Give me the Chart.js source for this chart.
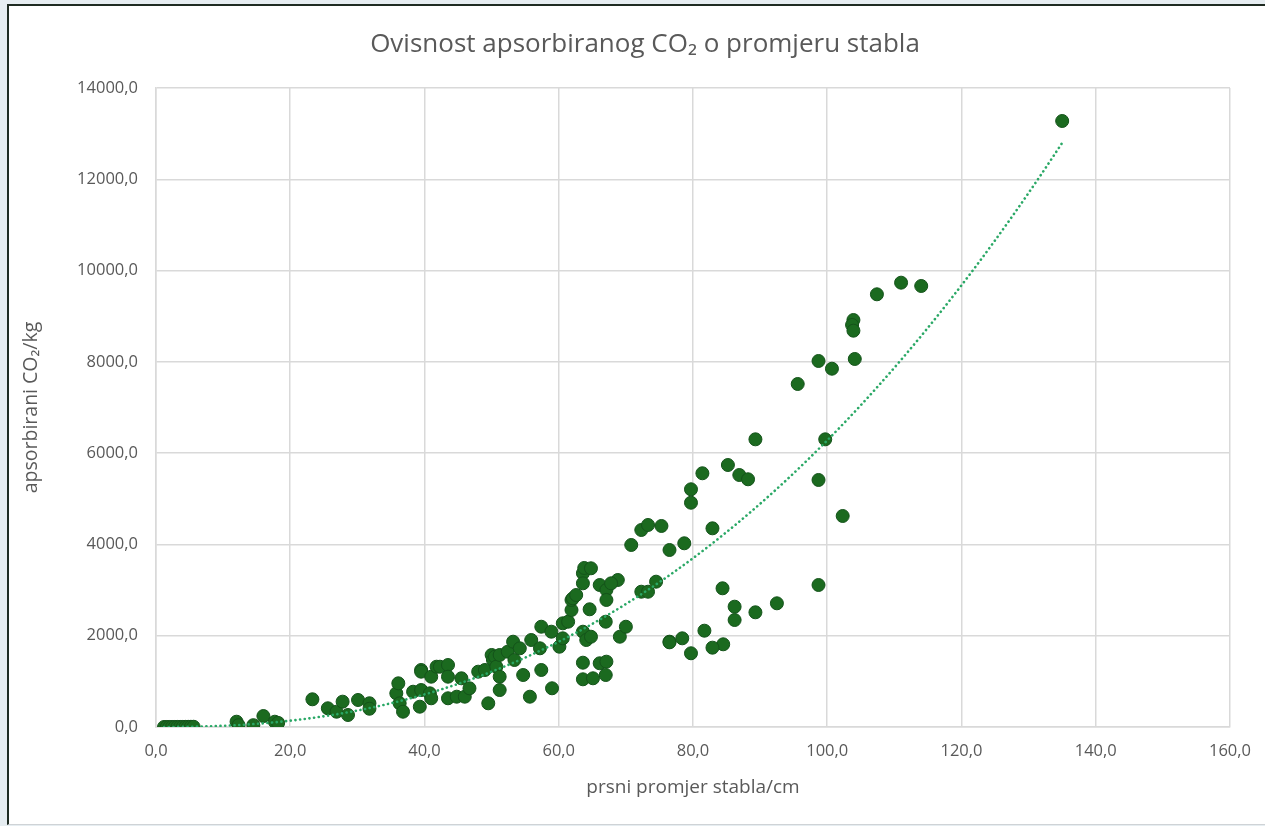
<!DOCTYPE html>
<html>
<head>
<meta charset="utf-8">
<title>Ovisnost apsorbiranog CO2 o promjeru stabla</title>
<script src="https://cdn.jsdelivr.net/npm/chart.js@4.4.1/dist/chart.umd.min.js"></script>
<style>
    html, body { margin: 0; padding: 0; }
    body { width: 1265px; height: 826px; background: #e6edf1; position: relative; overflow: hidden; }
    .panel {
        position: absolute; left: 7px; top: 4px; width: 1270px; height: 818px;
        background: #fff; border-left: 2px solid #1f2b22; border-top: 2px solid #1f2b22;
        border-bottom: 1px solid #cfd3d6;
    }
    #mycanvas { position: absolute; left: 0; top: 0; }
</style>
</head>
<body>
<div class="panel"></div>
<canvas id="mycanvas" width="1265" height="826"></canvas>
<script>
// data: breast-height diameter (cm) and absorbed CO2 (kg)
var diameter = [
    1.2, 1.6, 2.0, 2.4, 2.8, 3.2, 3.6, 4.0, 4.4, 4.8, 5.2, 5.6,
    12.0, 12.3, 14.5, 16.0, 17.7, 18.2, 23.3, 25.6, 26.9, 27.8, 28.6, 30.1,
    31.8, 31.8, 35.8, 36.1, 36.3, 36.8, 38.3, 39.3, 39.5, 39.5, 39.5, 40.8,
    41.0, 41.0, 41.8, 42.3, 43.5, 43.5, 43.5, 44.8, 45.5, 46.0, 46.7, 48.0,
    49.0, 49.5, 50.0, 50.2, 50.5, 50.7, 51.2, 51.2, 51.2, 52.4, 53.2, 53.4,
    54.2, 54.7, 55.7, 55.9, 57.2, 57.4, 57.4, 58.9, 59.0, 60.1, 60.6, 60.6,
    61.4, 61.9, 61.9, 62.1, 62.6, 63.6, 63.8, 64.8, 63.6, 64.6, 63.6, 64.1,
    64.8, 63.6, 63.6, 65.1, 66.1, 67.1, 67.0, 66.1, 67.1, 67.1, 68.8, 67.8,
    67.0, 69.1, 70.0, 72.3, 73.3, 74.5, 76.5, 70.8, 72.3, 73.3, 75.3, 76.5,
    78.7, 79.7, 79.7, 81.4, 82.9, 85.2, 86.9, 88.2, 84.4, 86.2, 86.2, 89.3,
    99.7, 98.7, 102.3, 98.7, 92.5, 89.3, 81.7, 84.5, 82.9, 79.7, 78.4, 76.5,
    111.0, 114.0, 107.4, 103.9, 103.7, 103.9, 104.1, 98.7, 100.7, 95.6, 135.0
];
var co2 = [
    0.17, 0.34, 0.5, 0.76, 1.1, 1.43, 1.85, 2.35, 2.94, 3.6, 4.3, 5.2,
    116, 40, 40, 240, 116, 90, 607, 410, 335, 555, 263, 592,
    520, 400, 738, 957, 519, 335, 773, 445, 1249, 810, 1212, 738,
    1102, 629, 1321, 1321, 1358, 1102, 629, 664, 1067, 664, 848, 1212,
    1249, 519, 1578, 1468, 1540, 1321, 1578, 1102, 810, 1650, 1869, 1468,
    1724, 1139, 664, 1906, 1724, 2197, 1249, 2088, 848, 1759, 1943, 2272,
    2307, 2563, 2783, 2820, 2892, 3368, 3484, 3477, 3148, 2579, 2088, 1906,
    1978, 1409, 1045, 1067, 1396, 1431, 1139, 3111, 3002, 2783, 3221, 3148,
    2307, 1978, 2197, 2964, 2964, 3184, 1869, 3988, 4316, 4426, 4404, 3878,
    4025, 4914, 5208, 5559, 4353, 5740, 5521, 5427, 3039, 2636, 2344, 6303,
    6303, 5412, 4623, 3111, 2710, 2513, 2110, 1812, 1738, 1615, 1943, 1855,
    9735, 9662, 9480, 8917, 8808, 8683, 8063, 8019, 7850, 7515, 13277
];
var xTicks = { min: 0, max: 160, step: 20 };
var yTicks = { min: 0, max: 14000, step: 2000 };

var textColor = '#595959';
var gridColor = '#d9d9d9';

function comma(v) {
    return Number(v).toFixed(1).replace('.', ',');
}

// scatter points
var points = [];
for (var i in diameter) {
    points.push({ x: diameter[i], y: co2[i] });
}

// power trendline (least squares on ln x, ln y), like the spreadsheet one
var sx = 0, sy = 0, sxx = 0, sxy = 0, n = 0;
for (var i in points) {
    if (points[i].x > 0 && points[i].y > 0) {
        var lx = Math.log(points[i].x), ly = Math.log(points[i].y);
        sx += lx; sy += ly; sxx += lx * lx; sxy += lx * ly; n++;
    }
}
var b = (n * sxy - sx * sy) / (n * sxx - sx * sx);
var a = Math.exp((sy - b * sx) / n);
var xmin = Math.min.apply(null, diameter), xmax = Math.max.apply(null, diameter);
var trend = [];
for (var k = 0; k <= 120; k++) {
    var xv = xmin + (xmax - xmin) * k / 120;
    trend.push({ x: xv, y: a * Math.pow(xv, b) });
}

var fontFamily = "'Open Sans', 'DejaVu Sans', sans-serif";

// title box is centred a bit left of the plot, as in the spreadsheet
var titleShift = {
    id: 'titleShift',
    afterLayout: function(chart) {
        if (chart.titleBlock) {
            chart.titleBlock.left = 59;
        }
    }
};

var ctx = document.getElementById('mycanvas');
var chart = new Chart(ctx, {
    type: 'scatter',
    plugins: [titleShift],
    data: {
        datasets: [{
            label: 'trend',
            type: 'line',
            data: trend,
            order: 0,
            borderColor: '#2aa866',
            borderWidth: 2.6,
            borderDash: [0.1, 4.6],
            borderCapStyle: 'round',
            pointRadius: 0,
            fill: false,
            tension: 0
        }, {
            label: 'apsorbirani CO2',
            data: points,
            order: 1,
            backgroundColor: '#1b6a1f',
            borderColor: '#14531a',
            borderWidth: 1,
            pointRadius: 6.5,
            pointHoverRadius: 6.5
        }]
    },
    options: {
        responsive: false,
        animation: false,
        maintainAspectRatio: false,
        layout: { padding: { left: 16, right: 34, top: 29, bottom: 0 } },
        plugins: {
            legend: { display: false },
            tooltip: { enabled: false },
            title: {
                display: true,
                text: 'Ovisnost apsorbiranog CO\u2082 o promjeru stabla',
                color: textColor,
                font: { family: fontFamily, size: 26, weight: 400 },
                padding: { top: 0, bottom: 27.8 }
            }
        },
        scales: {
            x: {
                type: 'linear',
                min: xTicks.min, max: xTicks.max,
                ticks: {
                    stepSize: xTicks.step, color: textColor, padding: 14,
                    font: { family: fontFamily, size: 16.5 },
                    callback: function(v) { return comma(v); },
                    maxRotation: 0
                },
                grid: { color: gridColor, lineWidth: 1.5, drawTicks: false },
                border: { color: gridColor, width: 1.5 },
                title: {
                    display: true, text: 'prsni promjer stabla/cm', color: textColor,
                    font: { family: fontFamily, size: 19 }, padding: { top: 0, bottom: 27 }
                },
                afterFit: function(scale) { scale.height = 99; }
            },
            y: {
                type: 'linear',
                min: yTicks.min, max: yTicks.max,
                ticks: {
                    stepSize: yTicks.step, color: textColor, padding: 18,
                    font: { family: fontFamily, size: 16.5 },
                    callback: function(v) { return comma(v); }
                },
                grid: { color: gridColor, lineWidth: 1.5, drawTicks: false },
                border: { color: gridColor, width: 1.5 },
                title: {
                    display: true, text: 'apsorbirani CO\u2082/kg', color: textColor,
                    font: { family: fontFamily, size: 19.5 }, padding: { top: 4, bottom: 4 }
                },
                afterFit: function(scale) { scale.width = 140; }
            }
        }
    }
});
</script>
</body>
</html>
